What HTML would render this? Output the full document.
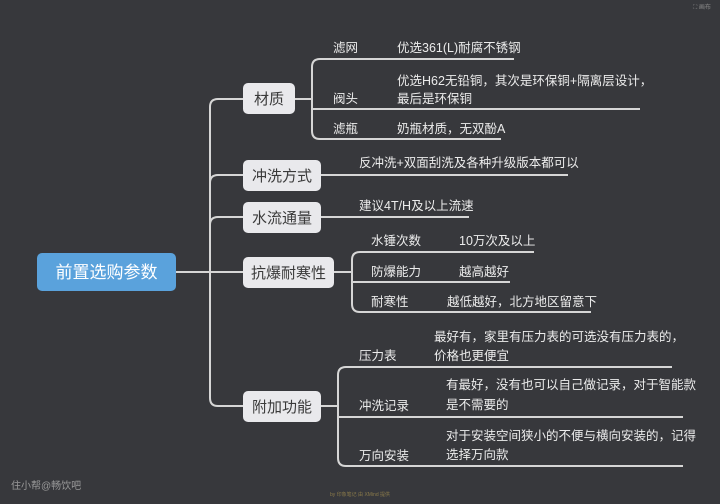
<!DOCTYPE html>
<html><head><meta charset="utf-8"><style>
html,body{margin:0;padding:0;background:#37383c;}
svg{display:block}
text{font-family:"Liberation Sans","Noto Sans CJK SC",sans-serif;}
.t{fill:#ececec;font-size:12.5px;}
.b{fill:#3a3a3a;font-size:15px;}
</style></head><body>
<svg width="720" height="504" viewBox="0 0 720 504" xmlns="http://www.w3.org/2000/svg">
<rect width="720" height="504" fill="#37383c"/>
<g fill="none" stroke="#d6d6d6" stroke-width="2">
<!-- root connector and trunk -->
<path d="M176,272 H243"/>
<path d="M243,99 H218 Q210,99 210,107 V398 Q210,406 218,406 H243"/>
<path d="M210,183 Q210,175 218,175 H243"/>
<path d="M210,225 Q210,217 218,217 H243"/>
<!-- material -->
<path d="M295,99 H312"/>
<path d="M514,59 H320 Q312,59 312,67 V131 Q312,139 320,139 H501"/>
<path d="M312,109 H640"/>
<path d="M321,175 H568"/>
<path d="M321,217 H469"/>
<!-- 抗爆 -->
<path d="M334,272 H352"/>
<path d="M534,252 H360 Q352,252 352,260 V304 Q352,312 360,312 H591"/>
<path d="M352,282 H510"/>
<!-- 附加 -->
<path d="M321,406 H338"/>
<path d="M672,367 H346 Q338,367 338,375 V458 Q338,466 346,466 H683"/>
<path d="M338,417 H683"/>
</g>
<rect x="37" y="253" width="139" height="38" rx="5" fill="#5aa2dc"/>
<text x="106.5" y="278" text-anchor="middle" fill="#fff" font-size="17">前置选购参数</text>
<g fill="#e9e9ec">
<rect x="243" y="83" width="52" height="31" rx="5"/>
<rect x="243" y="160" width="78" height="31" rx="5"/>
<rect x="243" y="202" width="78" height="31" rx="5"/>
<rect x="243" y="257" width="91" height="31" rx="5"/>
<rect x="243" y="391" width="78" height="31" rx="5"/>
</g>
<text class="b" x="269" y="104" text-anchor="middle">材质</text>
<text class="b" x="282" y="181" text-anchor="middle">冲洗方式</text>
<text class="b" x="282" y="223" text-anchor="middle">水流通量</text>
<text class="b" x="288.5" y="278" text-anchor="middle">抗爆耐寒性</text>
<text class="b" x="282" y="412" text-anchor="middle">附加功能</text>
<text class="t" x="333" y="52">滤网</text>
<text class="t" x="397" y="52">优选361(L)耐腐不锈钢</text>
<text class="t" x="397" y="85">优选H62无铅铜，其次是环保铜+隔离层设计，</text>
<text class="t" x="333" y="103">阀头</text>
<text class="t" x="397" y="103">最后是环保铜</text>
<text class="t" x="333" y="133">滤瓶</text>
<text class="t" x="397" y="133">奶瓶材质，无双酚A</text>
<text class="t" x="359" y="167">反冲洗+双面刮洗及各种升级版本都可以</text>
<text class="t" x="359" y="210">建议4T/H及以上流速</text>
<text class="t" x="371" y="245">水锤次数</text>
<text class="t" x="459" y="245">10万次及以上</text>
<text class="t" x="371" y="276">防爆能力</text>
<text class="t" x="459" y="276">越高越好</text>
<text class="t" x="371" y="306">耐寒性</text>
<text class="t" x="447" y="306">越低越好，北方地区留意下</text>
<text class="t" x="434" y="341">最好有，家里有压力表的可选没有压力表的，</text>
<text class="t" x="359" y="360">压力表</text>
<text class="t" x="434" y="360">价格也更便宜</text>
<text class="t" x="446" y="389">有最好，没有也可以自己做记录，对于智能款</text>
<text class="t" x="359" y="410">冲洗记录</text>
<text class="t" x="446" y="409">是不需要的</text>
<text class="t" x="446" y="440">对于安装空间狭小的不便与横向安装的，记得</text>
<text class="t" x="359" y="460">万向安装</text>
<text class="t" x="446" y="459">选择万向款</text>
<text x="11" y="489" fill="#9a9a9a" font-size="10">住小帮@畅饮吧</text>
<text x="330" y="496" fill="#8a7a4a" font-size="5">by 印象笔记 由 XMind 提供</text>
<text x="693" y="9" fill="#888" font-size="6">⛶ 画布</text>
</svg>
</body></html>
